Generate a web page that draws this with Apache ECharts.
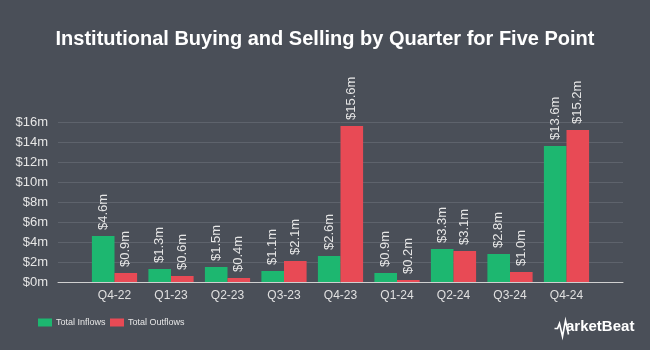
<!DOCTYPE html>
<html>
<head>
<meta charset="utf-8">
<script src="https://cdn.jsdelivr.net/npm/echarts@6/dist/echarts.min.js"></script>
<style>
html,body{margin:0;padding:0;background:#4a4f58;}
#chart{width:650px;height:350px;}
</style>
</head>
<body>
<div id="chart"></div>
<script>
const categories = ['Q4-22','Q1-23','Q2-23','Q3-23','Q4-23','Q1-24','Q2-24','Q3-24','Q4-24'];
const inflows = [4.6, 1.3, 1.5, 1.1, 2.6, 0.9, 3.3, 2.8, 13.6];
const outflows = [0.9, 0.6, 0.4, 2.1, 15.6, 0.2, 3.1, 1.0, 15.2];
const yTicks = [0, 2, 4, 6, 8, 10, 12, 14, 16];

const axisCats = [''].concat(categories, ['']);
const pad = arr => [null].concat(arr, [null]);

const chart = echarts.init(document.getElementById('chart'), null, {renderer:'canvas'});
const labelOpt = {
  show: true,
  position: 'top',
  rotate: 90,
  align: 'left',
  verticalAlign: 'middle',
  distance: 6,
  color: '#e6e6e6',
  fontFamily: 'Liberation Sans, Arial, sans-serif',
  fontSize: 13,
  formatter: p => '$' + p.value.toFixed(1) + 'm'
};
const legendBase = {
  top: 313,
  itemWidth: 14,
  itemHeight: 8,
  icon: 'rect',
  textStyle: {color: '#e6e6e6', fontSize: 9, fontFamily: 'Liberation Sans, Arial, sans-serif', padding: [0,0,0,-1]}
};
chart.setOption({
  backgroundColor: '#4a4f58',
  animation: false,
  title: {
    text: 'Institutional Buying and Selling by Quarter for Five Point',
    left: 'center',
    top: 24,
    textStyle: {color: '#ffffff', fontSize: 20, fontWeight: 'bold', fontFamily: 'Liberation Sans, Arial, sans-serif'}
  },
  legend: [
    Object.assign({left: 33, data: ['Total Inflows']}, legendBase),
    Object.assign({left: 105, data: ['Total Outflows']}, legendBase)
  ],
  grid: {left: 58, right: 27, top: 122, bottom: 68, containLabel: false},
  xAxis: {
    type: 'category',
    data: axisCats,
    boundaryGap: false,
    axisLine: {show: true, lineStyle: {color: '#d0d0d0', width: 1}},
    axisTick: {show: false},
    splitLine: {show: false},
    axisLabel: {color: '#e0e0e0', fontSize: 12, margin: 8, interval: 0, fontFamily: 'Liberation Sans, Arial, sans-serif'}
  },
  yAxis: {
    type: 'value',
    min: 0,
    max: 16,
    interval: 2,
    axisLine: {show: false},
    axisTick: {show: false},
    splitLine: {lineStyle: {color: '#5e636c', width: 1}},
    axisLabel: {
      color: '#e6e6e6', fontSize: 13, margin: 10, fontFamily: 'Liberation Sans, Arial, sans-serif',
      formatter: v => yTicks.indexOf(v) >= 0 ? '$' + v + 'm' : ''
    }
  },
  series: [
    {name: 'Total Inflows', type: 'bar', data: pad(inflows), itemStyle: {color: '#1db770'}, barGap: '0%', barCategoryGap: '20%', label: labelOpt},
    {name: 'Total Outflows', type: 'bar', data: pad(outflows), itemStyle: {color: '#e84a55'}, label: labelOpt}
  ],
  graphic: [
    {type: 'polyline', left: 552, top: 318, shape: {points: [[0,8],[3,8],[5,3],[8,16],[11,0],[14,14]]}, style: {stroke: '#ffffff', lineWidth: 1.6, fill: null}},
    {type: 'text', left: 566, top: 319, style: {text: 'arketBeat', fill: '#ffffff', font: 'bold 15px Liberation Sans, Arial, sans-serif'}}
  ]
});
</script>
</body>
</html>
